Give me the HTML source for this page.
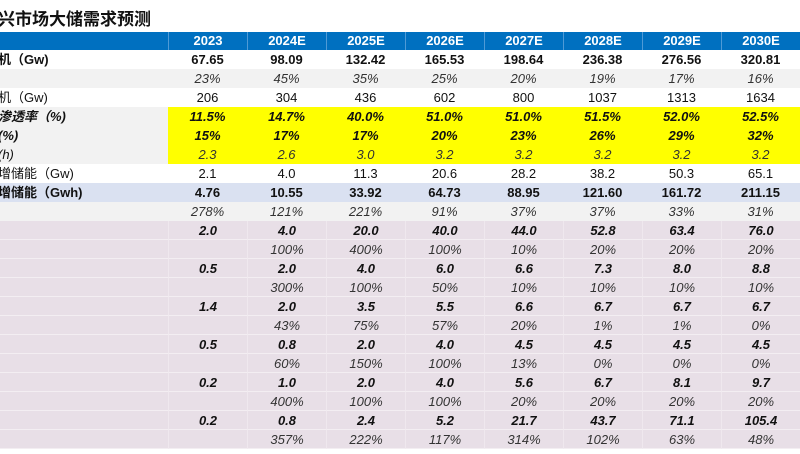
<!DOCTYPE html>
<html><head><meta charset="utf-8">
<style>
*{margin:0;padding:0;box-sizing:border-box}
body{width:800px;height:454px;background:#fff;overflow:hidden;font-family:"Liberation Sans","Noto Sans CJK SC",sans-serif;position:relative}
#title{position:absolute;left:-2px;top:5px;font-size:17px;font-weight:bold;color:#111;white-space:nowrap}
.c{position:absolute;height:19px;line-height:19px;font-size:13px;color:#111;text-align:center;white-space:nowrap;overflow:hidden}
.lab{text-align:left}
</style></head><body>
<div id="title">兴市场大储需求预测</div>
<div id="tbl"></div>
<script>
const years=["2023","2024E","2025E","2026E","2027E","2028E","2029E","2030E"];
const labels=["机（Gw)","","机（Gw)","渗透率（%)","(%)","(h)","增储能（Gw)","增储能（Gwh)","","","","","","","","","","","","",""];
const rows=[
["67.65","98.09","132.42","165.53","198.64","236.38","276.56","320.81"],
["23%","45%","35%","25%","20%","19%","17%","16%"],
["206","304","436","602","800","1037","1313","1634"],
["11.5%","14.7%","40.0%","51.0%","51.0%","51.5%","52.0%","52.5%"],
["15%","17%","17%","20%","23%","26%","29%","32%"],
["2.3","2.6","3.0","3.2","3.2","3.2","3.2","3.2"],
["2.1","4.0","11.3","20.6","28.2","38.2","50.3","65.1"],
["4.76","10.55","33.92","64.73","88.95","121.60","161.72","211.15"],
["278%","121%","221%","91%","37%","37%","33%","31%"],
["2.0","4.0","20.0","40.0","44.0","52.8","63.4","76.0"],
["","100%","400%","100%","10%","20%","20%","20%"],
["0.5","2.0","4.0","6.0","6.6","7.3","8.0","8.8"],
["","300%","100%","50%","10%","10%","10%","10%"],
["1.4","2.0","3.5","5.5","6.6","6.7","6.7","6.7"],
["","43%","75%","57%","20%","1%","1%","0%"],
["0.5","0.8","2.0","4.0","4.5","4.5","4.5","4.5"],
["","60%","150%","100%","13%","0%","0%","0%"],
["0.2","1.0","2.0","4.0","5.6","6.7","8.1","9.7"],
["","400%","100%","100%","20%","20%","20%","20%"],
["0.2","0.8","2.4","5.2","21.7","43.7","71.1","105.4"],
["","357%","222%","117%","314%","102%","63%","48%"]];
const styles=["b","i","","bi","bi","i","","b","i","bi","i","bi","i","bi","i","bi","i","bi","i","bi","i"];
const labBg=["#fff","#f2f2f2","#fff","#f2f2f2","#f2f2f2","#f2f2f2","#fff","#dae1f1","#f2f2f2"];
const dataBg=["#fff","#f2f2f2","#fff","#ffff00","#ffff00","#ffff00","#fff","#dae1f1","#f2f2f2"];
const tbl=document.getElementById('tbl');
const X0=168,CW=79,TOP=32,HH=18,RH=19;
function cell(x,y,w,h,txt,bg,cls){const d=document.createElement('div');d.className='c '+(cls||'');d.style.left=x+'px';d.style.top=y+'px';d.style.width=w+'px';d.style.height=h+'px';d.style.lineHeight=h+'px';d.style.background=bg;d.textContent=txt;tbl.appendChild(d);return d;}
const hb=cell(0,TOP,X0,HH,"","#0070c0");


years.forEach((y,j)=>{const d=cell(X0+j*CW,TOP,CW,HH,y,"#0070c0");d.style.color="#fff";d.style.fontWeight="bold";d.style.borderLeft="1px solid #4f9ad6";

});
rows.forEach((r,i)=>{const y=TOP+HH+i*RH;const lb=i<9?labBg[i]:"#e8dfe7";const db=i<9?dataBg[i]:"#e8dfe7";const st=styles[i];
const l=cell(-2,y,X0+2,RH,labels[i],lb,'lab');


if(st.includes('b'))l.style.fontWeight='bold';if(st.includes('i'))l.style.fontStyle='italic';
if(i>=9)l.style.borderBottom='1px solid #f3eef2';
r.forEach((v,j)=>{const d=cell(X0+j*CW,y,CW,RH,v,db);


if(st.includes('b'))d.style.fontWeight='bold';if(st.includes('i'))d.style.fontStyle='italic';
if(i>=9){d.style.borderBottom='1px solid #f3eef2';d.style.borderLeft='1px solid #efe8ee';}
if(st==='i')d.style.color='#333';});});
</script>
</body></html>
